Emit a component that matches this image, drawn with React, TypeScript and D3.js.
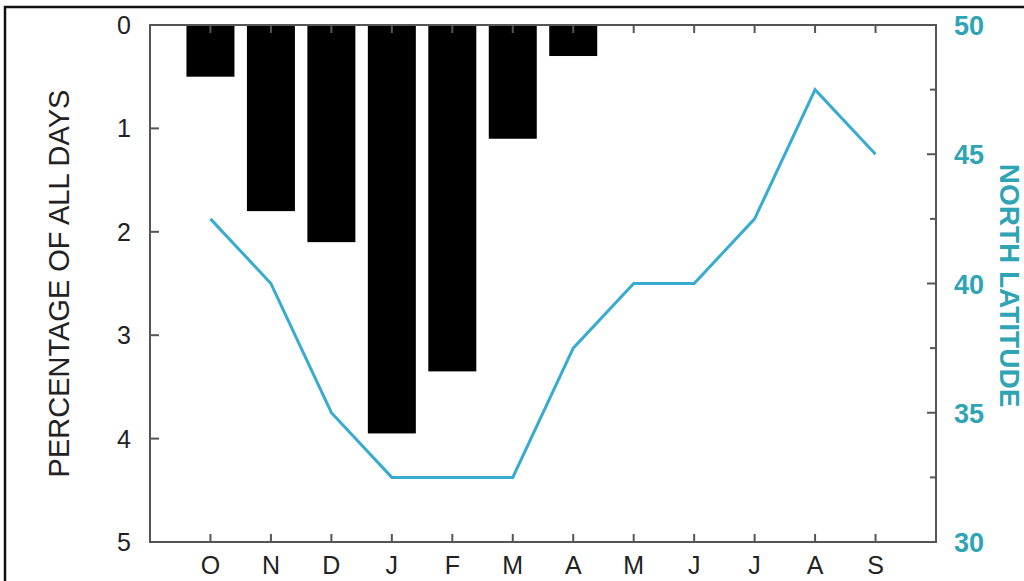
import React, { useEffect, useRef } from "react";
import * as d3 from "d3";

const months = ["O", "N", "D", "J", "F", "M", "A", "M", "J", "J", "A", "S"];
const pctDays = [0.5, 1.8, 2.1, 3.95, 3.35, 1.1, 0.3, 0, 0, 0, 0, 0];
const latitude = [42.5, 40, 35, 32.5, 32.5, 32.5, 37.5, 40, 40, 42.5, 47.5, 45];
const leftTicks = [0, 1, 2, 3, 4, 5];
const rightTicks = [30, 35, 40, 45, 50];
const rightMinor = [32.5, 37.5, 42.5, 47.5];

const W = 1024;
const H = 581;
const L = 150, R = 936, T = 25, B = 542;
const TEAL = "#2ea4b4";
const LINE = "#38abd2";
const AXIS = "#555";

export default function App() {
  const ref = useRef<SVGSVGElement>(null);

  useEffect(() => {
    const svg = d3.select(ref.current);
    svg.selectAll("*").remove();

    const idx = months.map((_, i) => i);
    const x = d3.scalePoint<number>().domain(idx).range([L, R]).padding(1);
    const yL = d3.scaleLinear().domain([0, 5]).range([T, B]);
    const yR = d3.scaleLinear().domain([30, 50]).range([B, T]);

    // frame
    svg.append("rect").attr("x", 5).attr("y", 7).attr("width", W + 10).attr("height", H + 10)
      .attr("fill", "none").attr("stroke", "#111").attr("stroke-width", 2.5);

    // bars
    svg.selectAll(".bar").data(pctDays).enter().append("rect")
      .attr("x", (_, i) => x(i)! - 24)
      .attr("y", yL(0))
      .attr("width", 48)
      .attr("height", d => yL(d) - yL(0))
      .attr("fill", "#000");

    // plot box
    svg.append("rect").attr("x", L).attr("y", T).attr("width", R - L).attr("height", B - T)
      .attr("fill", "none").attr("stroke", AXIS).attr("stroke-width", 2);

    // bottom / top ticks
    idx.forEach(i => {
      svg.append("line").attr("x1", x(i)).attr("x2", x(i)).attr("y1", B).attr("y2", B - 8)
        .attr("stroke", AXIS).attr("stroke-width", 2);
      svg.append("line").attr("x1", x(i)).attr("x2", x(i)).attr("y1", T).attr("y2", T + 8)
        .attr("stroke", AXIS).attr("stroke-width", 2);
      svg.append("text").attr("x", x(i)).attr("y", 574).attr("text-anchor", "middle")
        .attr("font-size", 25).attr("fill", "#222").text(months[i]);
    });

    // left ticks
    leftTicks.forEach(t => {
      if (t > 0 && t < 5) {
        svg.append("line").attr("x1", L).attr("x2", L + 9).attr("y1", yL(t)).attr("y2", yL(t))
          .attr("stroke", AXIS).attr("stroke-width", 2);
      }
      svg.append("text").attr("x", 131).attr("y", yL(t) + 9).attr("text-anchor", "end")
        .attr("font-size", 25).attr("fill", "#222").text(t);
    });

    // right ticks
    rightTicks.forEach(t => {
      if (t > 30 && t < 50) {
        svg.append("line").attr("x1", R).attr("x2", R - 9).attr("y1", yR(t)).attr("y2", yR(t))
          .attr("stroke", AXIS).attr("stroke-width", 2);
      }
      svg.append("text").attr("x", 954).attr("y", yR(t) + 10).attr("text-anchor", "start")
        .attr("font-size", 27).attr("font-weight", "bold").attr("fill", TEAL).text(t);
    });
    rightMinor.forEach(t => {
      svg.append("line").attr("x1", R).attr("x2", R - 6).attr("y1", yR(t)).attr("y2", yR(t))
        .attr("stroke", AXIS).attr("stroke-width", 2);
    });

    // latitude line
    const line = d3.line<number>().x((_, i) => x(i)!).y(d => yR(d));
    svg.append("path").datum(latitude).attr("d", line).attr("fill", "none")
      .attr("stroke", LINE).attr("stroke-width", 3).attr("stroke-linejoin", "miter");

    // axis titles
    svg.append("text").attr("transform", `translate(69,${(T + B) / 2}) rotate(-90)`)
      .attr("text-anchor", "middle").attr("font-size", 29).attr("fill", "#222")
      .text("PERCENTAGE OF ALL DAYS");
    svg.append("text").attr("transform", `translate(1000,${(T + B) / 2 + 2}) rotate(90)`)
      .attr("text-anchor", "middle").attr("font-size", 28).attr("font-weight", "bold")
      .attr("fill", TEAL).text("NORTH LATITUDE");
  }, []);

  return (
    <svg ref={ref} width={W} height={H}
      style={{ position: "absolute", left: 0, top: 0, background: "#fff", fontFamily: "'Liberation Sans', Arial, sans-serif" }} />
  );
}
